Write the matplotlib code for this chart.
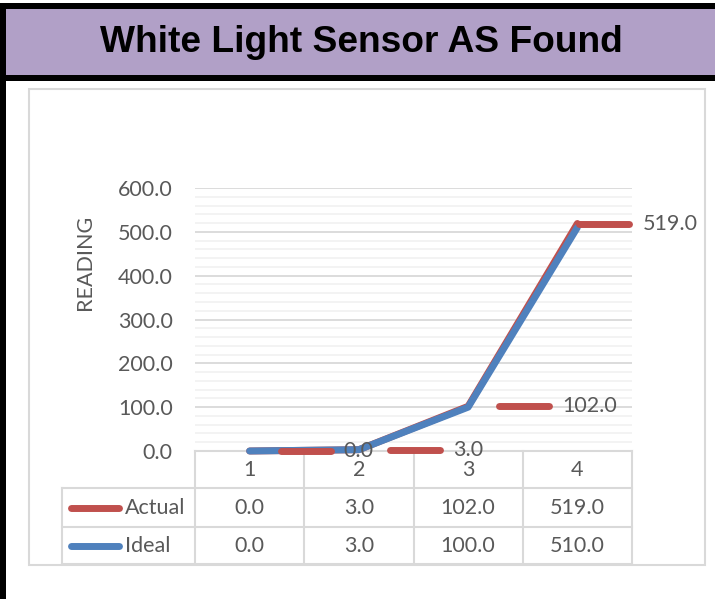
import matplotlib
matplotlib.use("Agg")
import matplotlib.pyplot as plt
from matplotlib.patches import Rectangle
from matplotlib.markers import MarkerStyle
from matplotlib.transforms import ScaledTranslation, blended_transform_factory
from matplotlib.ticker import MultipleLocator, FormatStrFormatter

# data
categories = [1, 2, 3, 4]
actual = [0.0, 3.0, 102.0, 519.0]
ideal = [0.0, 3.0, 100.0, 510.0]
series_names = ["Actual", "Ideal"]
title = "White Light Sensor AS Found"
y_title = "READING"

RED = "#C0504D"
BLUE = "#4F81BD"
PURPLE = "#B1A0C7"
GRID = "#D9D9D9"
MINOR = "#F2F2F2"
TXT = "#595959"
FS = 15.5

plt.rcParams["font.family"] = ["Lato", "DejaVu Sans"]

W, H = 715, 599
fig = plt.figure(figsize=(W / 100, H / 100), dpi=100)


def box(x0, y0, x1, y1, **kw):
    # rectangle in image pixels (origin top-left)
    fig.patches.append(Rectangle((x0 / W, 1 - y1 / H), (x1 - x0) / W, (y1 - y0) / H,
                                 transform=fig.transFigure, **kw))


# header band and page borders
box(0, 3, W, 81, facecolor="black", edgecolor="none")
box(6, 9, W, 75, facecolor=PURPLE, edgecolor="none")
box(0, 3, 6, H, facecolor="black", edgecolor="none")
box(29, 89, 705, 565, facecolor="none", edgecolor=GRID, linewidth=1.5)
fig.text(361 / W, 1 - 42 / H, title, ha="center", va="center", fontsize=26.7,
         fontweight="bold", family="Liberation Sans", color="black")
fig.text(85 / W, 1 - 262 / H, y_title, ha="center", va="center", rotation=90,
         fontsize=FS, color=TXT)

# plot area
ax = fig.add_axes([195 / W, 1 - 451 / H, 437 / W, 263 / H])
ax.set_xlim(0.5, 4.5)
ax.set_ylim(0, 600)
ax.yaxis.set_major_locator(MultipleLocator(100))
ax.yaxis.set_minor_locator(MultipleLocator(20))
ax.yaxis.set_major_formatter(FormatStrFormatter("%.1f"))
ax.grid(axis="y", which="major", color=GRID, lw=1.3)
ax.grid(axis="y", which="minor", color=MINOR, lw=1.3)
ax.set_axisbelow(True)
for s in ["left", "right", "top"]:
    ax.spines[s].set_visible(False)
ax.spines["bottom"].set_color(GRID)
ax.spines["bottom"].set_linewidth(1.5)
ax.tick_params(axis="y", which="both", length=0, pad=16, labelsize=FS, labelcolor=TXT)
ax.set_xticks([])

ax.plot(categories, actual, color=RED, lw=5, solid_capstyle="round",
        solid_joinstyle="round", zorder=3, clip_on=False)
ax.plot(categories, ideal, color=BLUE, lw=5, solid_capstyle="round",
        solid_joinstyle="round", zorder=4, clip_on=False)

# data labels with legend key (offsets in pixels)
label_offsets = [(56, 94), (56, 94), (56, 94), (27, 65)]
key_marker = MarkerStyle("_", capstyle="round")
for x, y, (dk, dt) in zip(categories, actual, label_offsets):
    tk = ax.transData + ScaledTranslation(dk / 100, 0, fig.dpi_scale_trans)
    ax.plot([x], [y], marker=key_marker, ms=36, mew=5, color=RED,
            transform=tk, clip_on=False, zorder=5)
    tt = ax.transData + ScaledTranslation(dt / 100, 0, fig.dpi_scale_trans)
    ax.text(x, y, f"{y:.1f}", transform=tt, ha="left", va="center",
            fontsize=FS, color=TXT, zorder=6)

# data table under the axis
bt = blended_transform_factory(ax.transData, ax.transAxes)
rows = [0, -37 / 263, -76 / 263, -113 / 263]
left = (62 - 195) / 437
line_kw = dict(color=GRID, lw=1.5, clip_on=False)
for xb in [c - 0.5 for c in categories] + [categories[-1] + 0.5]:
    ax.plot([xb, xb], [rows[0], rows[3]], transform=bt, **line_kw)
for r in rows[1:]:
    ax.plot([left, 1], [r, r], transform=ax.transAxes, **line_kw)
ax.plot([left, left], [rows[1], rows[3]], transform=ax.transAxes, **line_kw)

for c in categories:
    ax.text(c, (rows[0] + rows[1]) / 2, str(c), transform=bt, ha="center",
            va="center", fontsize=FS, color=TXT)

for i, (name, vals, col) in enumerate(zip(series_names, [actual, ideal], [RED, BLUE])):
    ym = (rows[i + 1] + rows[i + 2]) / 2
    ax.plot([(71 - 195) / 437, (119 - 195) / 437], [ym, ym], transform=ax.transAxes,
            color=col, lw=5, solid_capstyle="round", clip_on=False)
    ax.text((125 - 195) / 437, ym, name, transform=ax.transAxes, ha="left",
            va="center", fontsize=FS, color=TXT)
    for c, v in zip(categories, vals):
        ax.text(c, ym, f"{v:.1f}", transform=bt, ha="center", va="center",
                fontsize=FS, color=TXT)

fig.savefig("out.png", dpi=100)
